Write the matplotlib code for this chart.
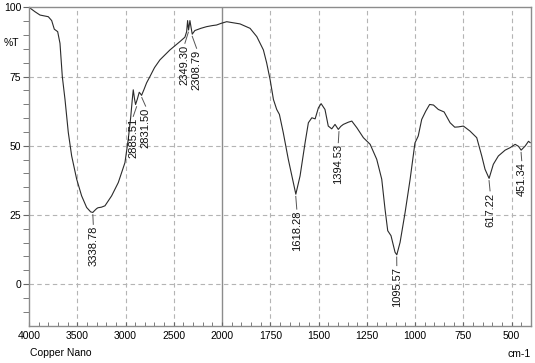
import numpy as np
import matplotlib
matplotlib.use("Agg")
import matplotlib.pyplot as plt

plt.rcParams['font.family'] = ['Liberation Sans', 'DejaVu Sans']

# spectrum (cm-1, %T)
wavenumber = [4000, 3938, 3886, 3800, 3765, 3738, 3703, 3679, 3655, 3627, 3593, 3558,
              3506, 3455, 3403, 3361, 3339, 3320, 3299, 3285, 3250, 3213, 3144, 3075,
              3006, 2972, 2947, 2930, 2920, 2906, 2896, 2879, 2858, 2848, 2834, 2810,
              2782, 2747, 2700, 2644, 2540, 2437, 2385, 2367, 2357, 2347, 2333, 2320,
              2309, 2282, 2220, 2161, 2100, 2057, 2010, 1976, 1959, 1907, 1855, 1820,
              1786, 1769, 1751, 1734, 1717, 1703, 1683, 1657, 1631, 1618, 1596, 1570,
              1553, 1535, 1518, 1501, 1487, 1467, 1450, 1432, 1415, 1398, 1385, 1372,
              1346, 1328, 1302, 1268, 1233, 1199, 1173, 1156, 1142, 1125, 1104, 1095,
              1078, 1052, 1026, 1001, 984, 966, 945, 925, 905, 880, 850, 819, 795, 776,
              750, 716, 681, 655, 638, 617, 595, 569, 534, 508, 482, 465, 451, 430,
              413, 404]
transmittance = [100.0, 98.4, 97.2, 96.6, 95.2, 92.1, 91.2, 87.0, 75.0, 66.7, 54.8, 46.3,
                 37.9, 31.9, 27.7, 26.1, 25.9, 26.6, 27.3, 27.6, 27.8, 28.3, 31.9, 36.7,
                 43.9, 52.3, 60.1, 66.7, 70.2, 66.7, 64.9, 66.7, 69.3, 68.9, 68.2, 70.2,
                 72.7, 75.0, 78.2, 81.0, 84.6, 87.6, 89.2, 91.2, 95.2, 91.8, 95.2, 92.5,
                 90.3, 91.6, 92.4, 93.0, 93.4, 93.6, 94.2, 94.8, 94.6, 94.0, 92.4, 89.4,
                 84.6, 79.9, 73.8, 66.7, 63.1, 61.3, 54.7, 45.1, 36.7, 32.5, 39.1, 51.1,
                 58.3, 60.1, 59.7, 63.7, 65.2, 63.1, 57.1, 56.1, 57.7, 55.9, 57.0, 57.7,
                 58.5, 58.9, 56.5, 52.9, 50.5, 45.1, 37.9, 27.1, 19.3, 17.5, 11.5, 10.6,
                 15.1, 25.9, 37.9, 51.0, 53.5, 59.5, 62.5, 64.9, 64.7, 63.1, 62.2, 58.3,
                 56.7, 56.8, 57.1, 55.3, 52.9, 46.3, 41.5, 38.2, 43.3, 46.3, 48.4, 49.3,
                 50.5, 49.8, 48.4, 49.9, 51.6, 51.1]

# peak labels
peak_wn = [3338.78, 2885.51, 2831.50, 2349.30, 2308.79, 1618.28, 1394.53, 1095.57, 617.22, 451.34]
peak_t = [25.9, 64.9, 68.2, 91.8, 90.3, 32.5, 55.9, 10.6, 38.2, 48.4]
label_x = [3334, 2920, 2792, 2385, 2264, 1613, 1398, 1095, 612, 448]
label_top = [21.0, 60.0, 63.7, 86.4, 84.6, 26.5, 50.5, 6.1, 33.1, 44.0]

xticks_major = [4000, 3500, 3000, 2500, 2000, 1750, 1500, 1250, 1000, 750, 500]
yticks_major = [0, 25, 50, 75, 100]


# x axis is compressed by 2 above 2000 cm-1
def fwd(x):
    x = np.asarray(x, dtype=float)
    return np.where(x > 2000, 2000 + (x - 2000) / 2, x)


def inv(t):
    t = np.asarray(t, dtype=float)
    return np.where(t > 2000, 2000 + (t - 2000) * 2, t)


fig = plt.figure(figsize=(5.35, 3.63), dpi=100)
ax = fig.add_axes([0.0542, 0.1028, 0.9383, 0.8771])
ax.set_xscale('function', functions=(fwd, inv))
ax.set_xlim(4000, 400)
ax.set_ylim(-15, 100)

grid_kw = dict(color='#b4b4b4', lw=0.8, ls=(0, (4, 3)), zorder=0)
for xv in xticks_major:
    if xv in (4000, 2000):
        continue
    ax.axvline(xv, **grid_kw)
for yv in yticks_major[:-1]:
    ax.axhline(yv, **grid_kw)
ax.axvline(2000, color='#8c8c8c', lw=1.0, zorder=0)

ax.plot(wavenumber, transmittance, color='#2b2b2b', lw=0.8, zorder=2)

for wn, t, lx, top in zip(peak_wn, peak_t, label_x, label_top):
    ax.plot([wn, lx], [t - 0.8, top + 0.6], color='#555555', lw=0.7)
    ax.text(lx, top, f"{wn:.2f}", rotation=90, ha='center', va='top',
            fontsize=8, color='#111111')

ax.set_xticks(xticks_major)
ax.set_xticklabels([str(v) for v in xticks_major])
minor_x = [v for v in range(3900, 2000, -100) if v not in xticks_major]
minor_x += [v for v in range(1950, 400, -50) if v not in xticks_major]
ax.set_xticks(minor_x, minor=True)
ax.set_yticks(yticks_major)
ax.set_yticks([v for v in range(-10, 100, 5) if v not in yticks_major], minor=True)

ax.tick_params(axis='x', which='both', direction='in', length=3, color='#666666',
               labelsize=7.5, pad=4)
ax.tick_params(axis='y', which='both', direction='out', length=4, color='#666666',
               labelsize=7.5, pad=1.5)
for s in ax.spines.values():
    s.set_color('#8c8c8c')
    s.set_linewidth(1.0)

fig.text(11 / 535, 1 - 42.5 / 363, '%T', fontsize=7.5, ha='center', va='center')
fig.text(30 / 535, 1 - 353 / 363, 'Copper Nano', fontsize=7.5, ha='left', va='center')
fig.text(531 / 535, 1 - 354 / 363, 'cm-1', fontsize=7.5, ha='right', va='center')

fig.savefig('out.png', dpi=100)
